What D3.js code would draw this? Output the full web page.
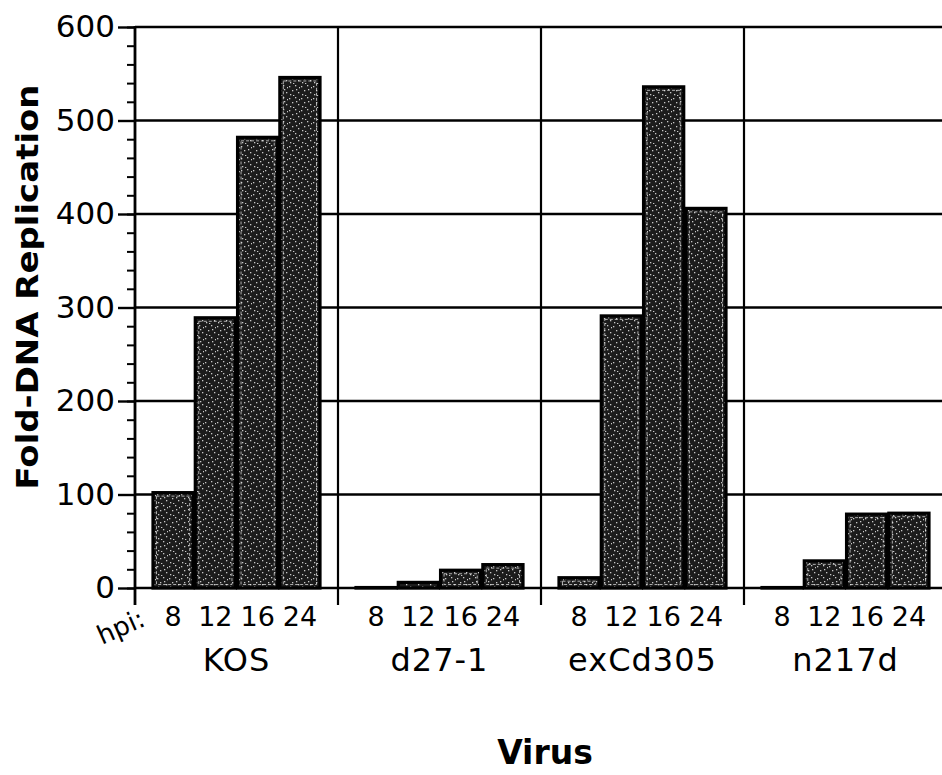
<!DOCTYPE html>
<html>
<head>
<meta charset="utf-8">
<script src="https://cdn.jsdelivr.net/npm/d3@7"></script>
<style>
  body { margin: 0; background: #fff; }
  svg { display: block; font-family: "DejaVu Sans", Verdana, sans-serif; }
</style>
</head>
<body>
<div id="chart"></div>
<script>
// data
const viruses = ["KOS", "d27-1", "exCd305", "n217d"];
const hpi = ["8", "12", "16", "24"];
const kosVals = [102, 289, 482, 546];
const d27Vals = [0.5, 6, 19, 25];
const exCdVals = [11, 291, 536, 406];
const n217dVals = [0.5, 29, 79, 80];
const yTicks = [0, 100, 200, 300, 400, 500, 600];

const allVals = [kosVals, d27Vals, exCdVals, n217dVals];
const rows = [];
viruses.forEach((v, i) => {
    hpi.forEach((h, j) => rows.push({virus: v, hpi: h, value: allVals[i][j]}));
});

const W = 942, H = 775;
const x0 = 135, yTop = 27, yBase = 588, groupW = 203;

const svg = d3.select("#chart").append("svg")
    .attr("width", W)
    .attr("height", H);

// stippled fill like the scanned bars
const defs = svg.append("defs");
const pat = defs.append("pattern")
    .attr("id", "stipple")
    .attr("patternUnits", "userSpaceOnUse")
    .attr("width", 12).attr("height", 12);
pat.append("rect").attr("width", 12).attr("height", 12).attr("fill", "#1c1c1c");
[[1,2],[7,1],[4,6],[10,8],[2,10],[8,5],[5,11],[11,3]].forEach(p => {
    pat.append("rect").attr("x", p[0]).attr("y", p[1])
        .attr("width", 1.3).attr("height", 1.3).attr("fill", "#c8c8c8");
});

const x = d3.scaleBand()
    .domain(viruses)
    .range([x0, x0 + groupW * viruses.length])
    .padding(0);

const xSub = d3.scaleBand()
    .domain(hpi)
    .range([18, groupW - 18])
    .paddingInner(0.05);

const y = d3.scaleLinear()
    .domain([0, 600])
    .range([yBase, yTop]);

// horizontal grid lines
svg.append("g")
    .selectAll("line")
    .data(yTicks)
    .join("line")
    .attr("x1", x0).attr("x2", W + 10)
    .attr("y1", d => y(d)).attr("y2", d => y(d))
    .attr("stroke", "#000")
    .attr("stroke-width", 2.4);

// group separators
svg.append("g")
    .selectAll("line")
    .data(viruses.slice(1))
    .join("line")
    .attr("x1", d => x(d)).attr("x2", d => x(d))
    .attr("y1", yTop).attr("y2", yBase + 17)
    .attr("stroke", "#000")
    .attr("stroke-width", 2.2);

// bars
const bars = svg.append("g")
    .selectAll("g")
    .data(rows)
    .join("g");

bars.append("rect")
    .attr("x", d => x(d.virus) + xSub(d.hpi))
    .attr("y", d => y(d.value))
    .attr("width", xSub.bandwidth())
    .attr("height", d => y(0) - y(d.value))
    .attr("fill", "url(#stipple)")
    .attr("stroke", "#000")
    .attr("stroke-width", 3.2);

bars.filter(d => y(0) - y(d.value) > 10)
    .append("rect")
    .attr("x", d => x(d.virus) + xSub(d.hpi) + 3.5)
    .attr("y", d => y(d.value) + 3.5)
    .attr("width", xSub.bandwidth() - 7)
    .attr("height", d => y(0) - y(d.value) - 7)
    .attr("fill", "none")
    .attr("stroke", "#e8e8e8")
    .attr("stroke-width", 1)
    .attr("stroke-dasharray", "3,2")
    .attr("opacity", 0.7);

// y axis: minor ticks then major ticks
svg.append("g")
    .attr("transform", "translate(" + x0 + ",0)")
    .call(d3.axisLeft(y).ticks(30).tickSize(8).tickFormat(""))
    .call(g => g.select(".domain").remove())
    .call(g => g.selectAll(".tick line").attr("stroke-width", 2));

svg.append("g")
    .attr("transform", "translate(" + x0 + ",0)")
    .call(d3.axisLeft(y).tickValues(yTicks).tickSize(17).tickPadding(3))
    .call(g => g.select(".domain").remove())
    .call(g => g.selectAll(".tick line").attr("stroke-width", 2.4))
    .call(g => g.selectAll(".tick text")
        .attr("font-family", "DejaVu Sans, Verdana, sans-serif")
        .attr("font-size", 31)
        .attr("fill", "#000"));

svg.append("line")
    .attr("x1", x0).attr("x2", x0)
    .attr("y1", yTop - 1).attr("y2", yBase + 17)
    .attr("stroke", "#000")
    .attr("stroke-width", 2.8);

// hpi labels under each bar
svg.append("g")
    .selectAll("text")
    .data(rows)
    .join("text")
    .attr("x", d => x(d.virus) + xSub(d.hpi) + xSub.bandwidth() / 2)
    .attr("y", 626)
    .attr("text-anchor", "middle")
    .attr("font-size", 27)
    .text(d => d.hpi);

svg.append("text")
    .attr("transform", "translate(102,645) rotate(-24)")
    .attr("font-size", 26)
    .text("hpi:");

// virus names
svg.append("g")
    .selectAll("text")
    .data(viruses)
    .join("text")
    .attr("x", d => x(d) + groupW / 2)
    .attr("y", 671)
    .attr("text-anchor", "middle")
    .attr("font-size", 32)
    .attr("letter-spacing", 1)
    .text(d => d);

// axis titles
svg.append("text")
    .attr("x", 545)
    .attr("y", 764)
    .attr("text-anchor", "middle")
    .attr("font-size", 33)
    .attr("font-weight", "bold")
    .text("Virus");

svg.append("text")
    .attr("transform", "translate(38,287) rotate(-90)")
    .attr("text-anchor", "middle")
    .attr("font-size", 31)
    .attr("font-weight", "bold")
    .attr("textLength", 405)
    .attr("lengthAdjust", "spacingAndGlyphs")
    .text("Fold-DNA Replication");
</script>
</body>
</html>
